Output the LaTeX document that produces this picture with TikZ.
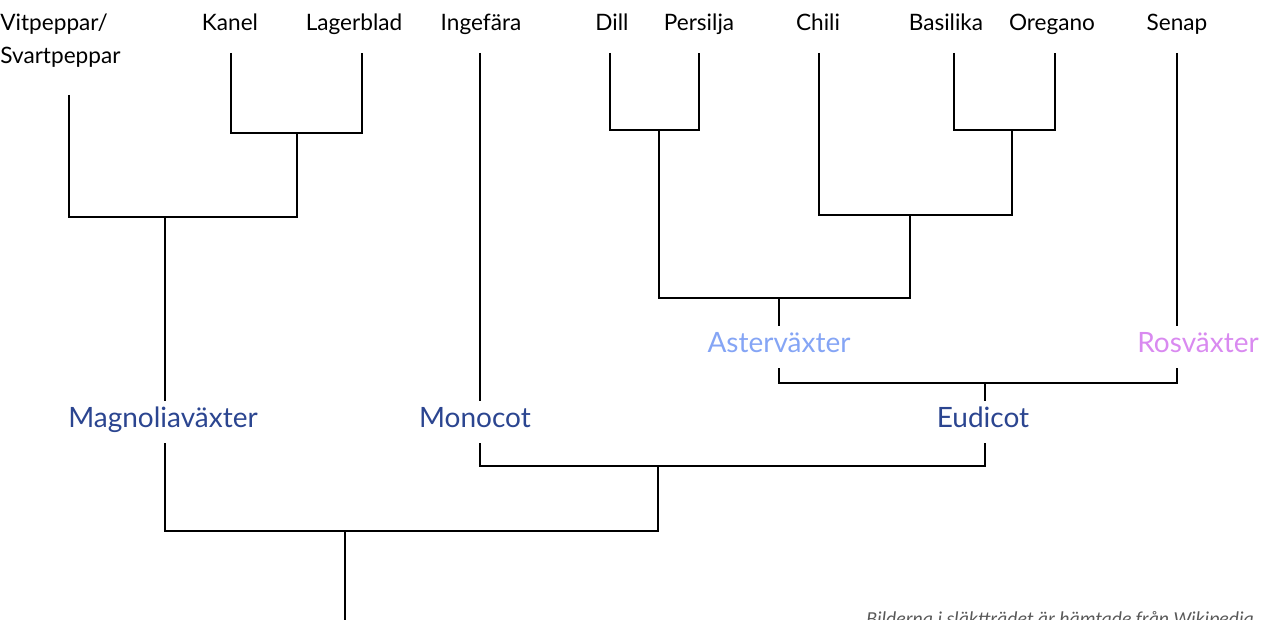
\documentclass[tikz,border=0pt]{standalone}
\usepackage{fontspec}
\setmainfont{Lato}
\newfontfamily\notefont{Carlito}
\definecolor{cladeblue}{HTML}{2B4590}
\definecolor{asterblue}{HTML}{85A5F5}
\definecolor{rosviolet}{HTML}{D98AF0}
\definecolor{notegray}{HTML}{595959}
\tikzset{
  leaf/.style={anchor=base, inner sep=0pt, font=\fontsize{11.3}{16.5}\selectfont},
  clade/.style={anchor=base, inner sep=0pt, text height=13.5pt, text depth=7.5pt,
    font=\fontsize{14}{16}\selectfont, text=cladeblue},
  branch/.style={line width=1.15pt}
}
\begin{document}
\begin{tikzpicture}
    [x=0.5pt, y=-0.5pt]
    \useasboundingbox (0,0) rectangle (1281,620);
    % leaves
    \node[leaf, align=left, anchor=base west] (vit) at (0,64) {Vitpeppar/\\Svartpeppar};
    \node[leaf] (kanel) at (230,31) {Kanel};
    \node[leaf] (lager) at (354,31) {Lagerblad};
    \node[leaf] (ing) at (481,31) {Ingefära};
    \node[leaf] (dill) at (612,31) {Dill};
    \node[leaf] (pers) at (699,31) {Persilja};
    \node[leaf] (chili) at (818,31) {Chili};
    \node[leaf] (basi) at (946,31) {Basilika};
    \node[leaf] (oreg) at (1052,31) {Oregano};
    \node[leaf] (senap) at (1177,31) {Senap};
    % clades
    \node[clade] (magn) at (163,428) {Magnoliaväxter};
    \node[clade] (mono) at (475,428) {Monocot};
    \node[clade] (eudi) at (983,428) {Eudicot};
    \node[clade, text=asterblue] (aster) at (779,353) {Asterväxter};
    \node[clade, text=rosviolet] (ros) at (1198,353) {Rosväxter};
    \node[anchor=north west, inner sep=0pt, font=\notefont\itshape\fontsize{9.9}{12}\selectfont,
      text=notegray] (source) at (866,611) {Bilderna i släktträdet är hämtade från Wikipedia};
    % line tips
    \coordinate (t-vit) at (69,95);
    \coordinate (t-kanel) at (231,53);
    \coordinate (t-lager) at (362,53);
    \coordinate (t-ing) at (480,53);
    \coordinate (t-dill) at (610,53);
    \coordinate (t-pers) at (699,53);
    \coordinate (t-chili) at (819,53);
    \coordinate (t-basi) at (954,53);
    \coordinate (t-oreg) at (1055,53);
    \coordinate (t-senap) at (1177,53);
    % junctions
    \coordinate (j-kl) at (297,133);
    \coordinate (j-magn) at (165,217);
    \coordinate (j-dp) at (659,130);
    \coordinate (j-bo) at (1012,130);
    \coordinate (j-cbo) at (910,215);
    \coordinate (j-aster) at (779,298);
    \coordinate (j-eudi) at (985,383);
    \coordinate (j-mono) at (658,466);
    \coordinate (root) at (345,531);
    \coordinate (rootend) at (345,625);
    % branches
    \draw[branch] (t-kanel) |- (j-kl) -| (t-lager);
    \draw[branch] (t-vit) |- (j-magn) -| (j-kl);
    \draw[branch] (j-magn) -- (j-magn |- magn.north);
    \draw[branch] (t-dill) |- (j-dp) -| (t-pers);
    \draw[branch] (t-basi) |- (j-bo) -| (t-oreg);
    \draw[branch] (t-chili) |- (j-cbo) -| (j-bo);
    \draw[branch] (j-dp) |- (j-aster) -| (j-cbo);
    \draw[branch] (j-aster) -- (aster);
    \draw[branch] (t-senap) -- (t-senap |- ros.north);
    \draw[branch] (aster) |- (j-eudi) -| (t-senap |- ros.south);
    \draw[branch] (j-eudi) -- (j-eudi |- eudi.north);
    \draw[branch] (t-ing) -- (t-ing |- mono.north);
    \draw[branch] (t-ing |- mono.south) |- (j-mono) -| (j-eudi |- eudi.south);
    \draw[branch] (j-magn |- magn.south) |- (root) -| (j-mono);
    \draw[branch] (root) -- (rootend);
\end{tikzpicture}
\end{document}
